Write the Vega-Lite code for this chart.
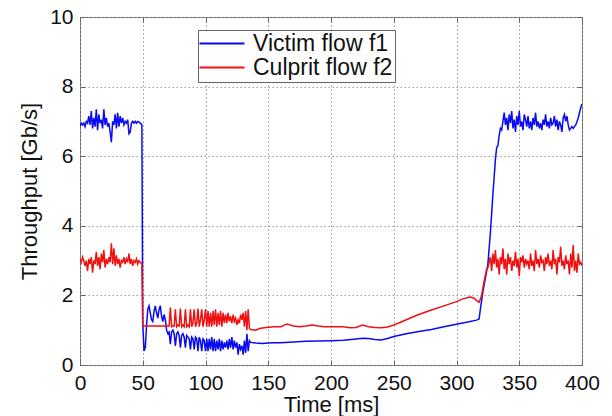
{
  "$schema": "https://vega.github.io/schema/vega-lite/v6.json",
  "autosize": "none",
  "width": 502,
  "height": 348,
  "padding": {"left": 80, "top": 17, "right": 30, "bottom": 51},
  "background": "white",
  "datasets": {
    "victim": [
      {"t": 0, "v": 6.85}, {"t": 1, "v": 6.95}, {"t": 2, "v": 6.9}, {"t": 3, "v": 6.95}, {"t": 4, "v": 6.85},
      {"t": 5, "v": 7.0}, {"t": 6, "v": 6.95}, {"t": 7, "v": 7.15}, {"t": 8, "v": 6.9}, {"t": 9, "v": 7.3},
      {"t": 10, "v": 6.8}, {"t": 11, "v": 7.1}, {"t": 12, "v": 6.85}, {"t": 13, "v": 7.35}, {"t": 14, "v": 6.75},
      {"t": 15, "v": 7.2}, {"t": 16, "v": 6.95}, {"t": 17, "v": 7.05}, {"t": 18, "v": 6.8}, {"t": 19, "v": 7.35},
      {"t": 20, "v": 6.9}, {"t": 21, "v": 7.1}, {"t": 22, "v": 6.85}, {"t": 23, "v": 6.95}, {"t": 24, "v": 6.7},
      {"t": 25, "v": 6.4}, {"t": 26, "v": 7.0}, {"t": 27, "v": 6.9}, {"t": 28, "v": 7.2}, {"t": 29, "v": 6.8},
      {"t": 30, "v": 7.25}, {"t": 31, "v": 6.85}, {"t": 32, "v": 7.15}, {"t": 33, "v": 6.95}, {"t": 34, "v": 7.1},
      {"t": 35, "v": 6.9}, {"t": 36, "v": 7.0}, {"t": 37, "v": 6.95}, {"t": 38, "v": 7.05}, {"t": 39, "v": 6.65},
      {"t": 40, "v": 6.7}, {"t": 41, "v": 6.95}, {"t": 42, "v": 7.0}, {"t": 43, "v": 6.95}, {"t": 44, "v": 7.0},
      {"t": 45, "v": 6.95}, {"t": 46, "v": 7.0}, {"t": 47, "v": 6.98}, {"t": 48, "v": 6.95}, {"t": 49.3, "v": 6.9},
      {"t": 50, "v": 1.2}, {"t": 51, "v": 0.4}, {"t": 52, "v": 0.5}, {"t": 53, "v": 1.1}, {"t": 54, "v": 1.6},
      {"t": 55, "v": 1.7}, {"t": 56, "v": 1.5}, {"t": 57, "v": 1.3}, {"t": 58, "v": 1.25}, {"t": 59, "v": 1.55},
      {"t": 60, "v": 1.7}, {"t": 61, "v": 1.5}, {"t": 62, "v": 1.35}, {"t": 63, "v": 1.6}, {"t": 64, "v": 1.7},
      {"t": 65, "v": 1.4}, {"t": 66, "v": 1.25}, {"t": 67, "v": 1.45}, {"t": 68, "v": 1.3}, {"t": 69, "v": 1.0},
      {"t": 70, "v": 0.9}, {"t": 71, "v": 0.95}, {"t": 72, "v": 0.6}, {"t": 73, "v": 0.95}, {"t": 74, "v": 1.0},
      {"t": 75, "v": 0.9}, {"t": 76, "v": 0.55}, {"t": 77, "v": 0.9}, {"t": 78, "v": 0.95}, {"t": 79, "v": 0.85},
      {"t": 80, "v": 0.5}, {"t": 81, "v": 0.85}, {"t": 82, "v": 0.9}, {"t": 83, "v": 0.8}, {"t": 84, "v": 0.5},
      {"t": 85, "v": 0.85}, {"t": 86, "v": 0.8}, {"t": 87, "v": 0.75}, {"t": 88, "v": 0.45}, {"t": 89, "v": 0.8},
      {"t": 90, "v": 0.75}, {"t": 91, "v": 0.45}, {"t": 92, "v": 0.8}, {"t": 93, "v": 0.75}, {"t": 94, "v": 0.4},
      {"t": 95, "v": 0.8}, {"t": 96, "v": 0.7}, {"t": 97, "v": 0.4}, {"t": 98, "v": 0.75}, {"t": 99, "v": 0.7},
      {"t": 100, "v": 0.4}, {"t": 101, "v": 0.75}, {"t": 102, "v": 0.4}, {"t": 103, "v": 0.75}, {"t": 104, "v": 0.45},
      {"t": 105, "v": 0.8}, {"t": 106, "v": 0.4}, {"t": 107, "v": 0.75}, {"t": 108, "v": 0.4}, {"t": 109, "v": 0.7},
      {"t": 110, "v": 0.45}, {"t": 111, "v": 0.75}, {"t": 112, "v": 0.4}, {"t": 113, "v": 0.7}, {"t": 114, "v": 0.45},
      {"t": 115, "v": 0.65}, {"t": 116, "v": 0.5}, {"t": 117, "v": 0.7}, {"t": 118, "v": 0.45}, {"t": 119, "v": 0.75},
      {"t": 120, "v": 0.5}, {"t": 121, "v": 0.8}, {"t": 122, "v": 0.45}, {"t": 123, "v": 0.7}, {"t": 124, "v": 0.5},
      {"t": 125, "v": 0.65}, {"t": 126, "v": 0.3}, {"t": 127, "v": 0.6}, {"t": 128, "v": 0.45}, {"t": 129, "v": 0.55},
      {"t": 130, "v": 0.3}, {"t": 131, "v": 0.7}, {"t": 132, "v": 0.35}, {"t": 133, "v": 0.9}, {"t": 134, "v": 0.4},
      {"t": 135, "v": 0.7}, {"t": 136, "v": 0.65}, {"t": 140, "v": 0.63}, {"t": 145, "v": 0.62}, {"t": 150, "v": 0.63},
      {"t": 155, "v": 0.64}, {"t": 160, "v": 0.64}, {"t": 170, "v": 0.66}, {"t": 180, "v": 0.68}, {"t": 190, "v": 0.69},
      {"t": 200, "v": 0.7}, {"t": 210, "v": 0.71}, {"t": 220, "v": 0.75}, {"t": 225, "v": 0.77}, {"t": 230, "v": 0.76},
      {"t": 235, "v": 0.73}, {"t": 240, "v": 0.72}, {"t": 245, "v": 0.76}, {"t": 250, "v": 0.82}, {"t": 260, "v": 0.9},
      {"t": 270, "v": 0.96}, {"t": 280, "v": 1.02}, {"t": 290, "v": 1.1}, {"t": 300, "v": 1.17}, {"t": 310, "v": 1.24},
      {"t": 316, "v": 1.29}, {"t": 318, "v": 1.32}, {"t": 319, "v": 1.6}, {"t": 321, "v": 2.1}, {"t": 323, "v": 2.5},
      {"t": 325, "v": 2.9}, {"t": 327, "v": 3.8}, {"t": 329, "v": 4.9}, {"t": 331, "v": 5.9}, {"t": 332, "v": 6.25},
      {"t": 333, "v": 6.3}, {"t": 334, "v": 6.6}, {"t": 335, "v": 6.8}, {"t": 336, "v": 6.75}, {"t": 337, "v": 7.0},
      {"t": 338, "v": 7.25}, {"t": 339, "v": 6.9}, {"t": 340, "v": 7.1}, {"t": 341, "v": 6.75}, {"t": 342, "v": 7.2},
      {"t": 343, "v": 6.95}, {"t": 344, "v": 7.3}, {"t": 345, "v": 6.8}, {"t": 346, "v": 7.05}, {"t": 347, "v": 6.7},
      {"t": 348, "v": 7.15}, {"t": 349, "v": 6.9}, {"t": 350, "v": 7.3}, {"t": 351, "v": 6.85}, {"t": 352, "v": 7.0},
      {"t": 353, "v": 6.75}, {"t": 354, "v": 7.2}, {"t": 355, "v": 7.05}, {"t": 356, "v": 6.85}, {"t": 357, "v": 7.15},
      {"t": 358, "v": 6.8}, {"t": 359, "v": 7.0}, {"t": 360, "v": 6.75}, {"t": 361, "v": 7.1}, {"t": 362, "v": 6.9},
      {"t": 363, "v": 7.25}, {"t": 364, "v": 6.85}, {"t": 365, "v": 7.0}, {"t": 366, "v": 6.8}, {"t": 367, "v": 6.95},
      {"t": 368, "v": 6.75}, {"t": 369, "v": 7.05}, {"t": 370, "v": 6.9}, {"t": 371, "v": 7.2}, {"t": 372, "v": 6.85},
      {"t": 373, "v": 7.0}, {"t": 374, "v": 6.8}, {"t": 375, "v": 7.1}, {"t": 376, "v": 6.9}, {"t": 377, "v": 6.95},
      {"t": 378, "v": 7.15}, {"t": 379, "v": 6.85}, {"t": 380, "v": 7.05}, {"t": 381, "v": 6.75}, {"t": 382, "v": 7.0},
      {"t": 383, "v": 6.9}, {"t": 384, "v": 6.7}, {"t": 385, "v": 7.1}, {"t": 386, "v": 7.2}, {"t": 387, "v": 7.0},
      {"t": 388, "v": 7.15}, {"t": 389, "v": 6.9}, {"t": 390, "v": 6.75}, {"t": 391, "v": 6.8}, {"t": 392, "v": 6.85},
      {"t": 393, "v": 6.8}, {"t": 394, "v": 6.85}, {"t": 395, "v": 6.9}, {"t": 396, "v": 7.0}, {"t": 397, "v": 7.1},
      {"t": 398, "v": 7.25}, {"t": 399, "v": 7.4}, {"t": 400, "v": 7.5}
    ],
    "culprit": [
      {"t": 0, "v": 3.05}, {"t": 1, "v": 2.95}, {"t": 2, "v": 3.1}, {"t": 3, "v": 3.0}, {"t": 4, "v": 2.85},
      {"t": 5, "v": 3.0}, {"t": 6, "v": 2.7}, {"t": 7, "v": 3.05}, {"t": 8, "v": 2.9}, {"t": 9, "v": 3.1},
      {"t": 10, "v": 2.65}, {"t": 11, "v": 3.0}, {"t": 12, "v": 2.9}, {"t": 13, "v": 3.25}, {"t": 14, "v": 2.85},
      {"t": 15, "v": 3.1}, {"t": 16, "v": 2.75}, {"t": 17, "v": 3.2}, {"t": 18, "v": 2.95}, {"t": 19, "v": 3.3},
      {"t": 20, "v": 2.8}, {"t": 21, "v": 3.05}, {"t": 22, "v": 2.9}, {"t": 23, "v": 3.1}, {"t": 24, "v": 2.95},
      {"t": 25, "v": 3.5}, {"t": 26, "v": 2.9}, {"t": 27, "v": 3.35}, {"t": 28, "v": 2.85}, {"t": 29, "v": 3.15},
      {"t": 30, "v": 2.9}, {"t": 31, "v": 3.05}, {"t": 32, "v": 2.8}, {"t": 33, "v": 3.0}, {"t": 34, "v": 2.95},
      {"t": 35, "v": 3.1}, {"t": 36, "v": 2.9}, {"t": 37, "v": 3.05}, {"t": 38, "v": 2.95}, {"t": 39, "v": 3.2},
      {"t": 40, "v": 2.9}, {"t": 41, "v": 3.05}, {"t": 42, "v": 2.85}, {"t": 43, "v": 3.0}, {"t": 44, "v": 2.95},
      {"t": 45, "v": 3.05}, {"t": 46, "v": 2.9}, {"t": 47, "v": 3.0}, {"t": 48, "v": 2.95}, {"t": 49.3, "v": 2.9},
      {"t": 50, "v": 1.12}, {"t": 60, "v": 1.12}, {"t": 70, "v": 1.12}, {"t": 71, "v": 1.12}, {"t": 72, "v": 1.65},
      {"t": 73, "v": 1.1}, {"t": 74, "v": 1.12}, {"t": 75, "v": 1.12}, {"t": 76, "v": 1.6}, {"t": 77, "v": 1.1},
      {"t": 78, "v": 1.15}, {"t": 79, "v": 1.12}, {"t": 80, "v": 1.62}, {"t": 81, "v": 1.1}, {"t": 82, "v": 1.15},
      {"t": 83, "v": 1.1}, {"t": 84, "v": 1.6}, {"t": 85, "v": 1.1}, {"t": 86, "v": 1.15}, {"t": 87, "v": 1.1},
      {"t": 88, "v": 1.6}, {"t": 89, "v": 1.1}, {"t": 90, "v": 1.2}, {"t": 91, "v": 1.6}, {"t": 92, "v": 1.1},
      {"t": 93, "v": 1.2}, {"t": 94, "v": 1.62}, {"t": 95, "v": 1.1}, {"t": 96, "v": 1.3}, {"t": 97, "v": 1.6},
      {"t": 98, "v": 1.1}, {"t": 99, "v": 1.3}, {"t": 100, "v": 1.6}, {"t": 101, "v": 1.1}, {"t": 102, "v": 1.55},
      {"t": 103, "v": 1.1}, {"t": 104, "v": 1.5}, {"t": 105, "v": 1.1}, {"t": 106, "v": 1.55}, {"t": 107, "v": 1.15},
      {"t": 108, "v": 1.6}, {"t": 109, "v": 1.1}, {"t": 110, "v": 1.5}, {"t": 111, "v": 1.15}, {"t": 112, "v": 1.55},
      {"t": 113, "v": 1.1}, {"t": 114, "v": 1.5}, {"t": 115, "v": 1.2}, {"t": 116, "v": 1.45}, {"t": 117, "v": 1.2},
      {"t": 118, "v": 1.5}, {"t": 119, "v": 1.25}, {"t": 120, "v": 1.4}, {"t": 121, "v": 1.2}, {"t": 122, "v": 1.45},
      {"t": 123, "v": 1.25}, {"t": 124, "v": 1.35}, {"t": 125, "v": 1.15}, {"t": 126, "v": 1.3}, {"t": 127, "v": 1.2},
      {"t": 128, "v": 1.45}, {"t": 129, "v": 1.3}, {"t": 130, "v": 1.5}, {"t": 131, "v": 1.1}, {"t": 132, "v": 1.55},
      {"t": 133, "v": 1.0}, {"t": 134, "v": 1.6}, {"t": 135, "v": 1.05}, {"t": 136, "v": 1.02}, {"t": 140, "v": 1.0},
      {"t": 143, "v": 1.05}, {"t": 148, "v": 1.08}, {"t": 155, "v": 1.1}, {"t": 160, "v": 1.1}, {"t": 165, "v": 1.18},
      {"t": 170, "v": 1.12}, {"t": 175, "v": 1.1}, {"t": 180, "v": 1.12}, {"t": 185, "v": 1.15}, {"t": 190, "v": 1.12},
      {"t": 195, "v": 1.1}, {"t": 200, "v": 1.1}, {"t": 205, "v": 1.1}, {"t": 210, "v": 1.1}, {"t": 215, "v": 1.07},
      {"t": 220, "v": 1.08}, {"t": 225, "v": 1.15}, {"t": 230, "v": 1.1}, {"t": 235, "v": 1.08}, {"t": 240, "v": 1.07},
      {"t": 245, "v": 1.09}, {"t": 250, "v": 1.15}, {"t": 255, "v": 1.22}, {"t": 260, "v": 1.3}, {"t": 265, "v": 1.38},
      {"t": 270, "v": 1.45}, {"t": 280, "v": 1.58}, {"t": 290, "v": 1.7}, {"t": 300, "v": 1.82}, {"t": 305, "v": 1.9},
      {"t": 311, "v": 1.95}, {"t": 314, "v": 1.92}, {"t": 316, "v": 1.85}, {"t": 318, "v": 1.8}, {"t": 320, "v": 2.0},
      {"t": 322, "v": 2.4}, {"t": 324, "v": 2.75}, {"t": 325, "v": 2.8}, {"t": 326, "v": 2.95}, {"t": 327, "v": 3.1},
      {"t": 328, "v": 2.7}, {"t": 329, "v": 3.2}, {"t": 330, "v": 2.9}, {"t": 331, "v": 3.3}, {"t": 332, "v": 2.8},
      {"t": 333, "v": 3.05}, {"t": 334, "v": 2.6}, {"t": 335, "v": 3.1}, {"t": 336, "v": 2.9}, {"t": 337, "v": 3.35},
      {"t": 338, "v": 2.75}, {"t": 339, "v": 3.05}, {"t": 340, "v": 2.6}, {"t": 341, "v": 3.2}, {"t": 342, "v": 2.9},
      {"t": 343, "v": 3.1}, {"t": 344, "v": 2.7}, {"t": 345, "v": 3.0}, {"t": 346, "v": 2.85}, {"t": 347, "v": 3.25},
      {"t": 348, "v": 2.8}, {"t": 349, "v": 3.05}, {"t": 350, "v": 2.55}, {"t": 351, "v": 3.1}, {"t": 352, "v": 2.95},
      {"t": 353, "v": 3.15}, {"t": 354, "v": 2.8}, {"t": 355, "v": 3.05}, {"t": 356, "v": 2.9}, {"t": 357, "v": 3.0},
      {"t": 358, "v": 2.75}, {"t": 359, "v": 3.2}, {"t": 360, "v": 2.85}, {"t": 361, "v": 3.0}, {"t": 362, "v": 2.7},
      {"t": 363, "v": 3.3}, {"t": 364, "v": 2.9}, {"t": 365, "v": 3.05}, {"t": 366, "v": 2.8}, {"t": 367, "v": 3.15},
      {"t": 368, "v": 2.95}, {"t": 369, "v": 3.0}, {"t": 370, "v": 2.7}, {"t": 371, "v": 3.1}, {"t": 372, "v": 2.9},
      {"t": 373, "v": 3.2}, {"t": 374, "v": 2.85}, {"t": 375, "v": 3.0}, {"t": 376, "v": 2.75}, {"t": 377, "v": 3.3},
      {"t": 378, "v": 2.9}, {"t": 379, "v": 3.05}, {"t": 380, "v": 2.6}, {"t": 381, "v": 3.1}, {"t": 382, "v": 2.95},
      {"t": 383, "v": 3.4}, {"t": 384, "v": 2.85}, {"t": 385, "v": 3.0}, {"t": 386, "v": 2.75}, {"t": 387, "v": 3.15},
      {"t": 388, "v": 2.9}, {"t": 389, "v": 3.0}, {"t": 390, "v": 2.6}, {"t": 391, "v": 3.2}, {"t": 392, "v": 2.8},
      {"t": 393, "v": 3.45}, {"t": 394, "v": 2.7}, {"t": 395, "v": 3.0}, {"t": 396, "v": 2.65}, {"t": 397, "v": 3.2},
      {"t": 398, "v": 2.9}, {"t": 399, "v": 2.95}, {"t": 400, "v": 2.85}
    ]
  },
  "resolve": {"axis": {"x": "independent", "y": "independent"}},
  "layer": [
    {
      "data": {"name": "victim"},
      "mark": {"type": "line", "strokeWidth": 1.5, "clip": true},
      "encoding": {
        "x": {
          "field": "t", "type": "quantitative",
          "scale": {"domain": [0, 400], "nice": false, "zero": false},
          "axis": {
            "title": "Time [ms]", "values": [0, 50, 100, 150, 200, 250, 300, 350, 400],
            "grid": true, "domain": false, "tickSize": -5, "labelPadding": 12,
            "titlePadding": 1
          }
        },
        "y": {
          "field": "v", "type": "quantitative",
          "scale": {"domain": [0, 10], "nice": false},
          "axis": {
            "title": "Throughput [Gb/s]", "values": [0, 2, 4, 6, 8, 10],
            "grid": true, "domain": false, "tickSize": -5, "labelPadding": 12,
            "titlePadding": 8
          }
        },
        "color": {
          "datum": "Victim flow f1",
          "type": "nominal",
          "scale": {"domain": ["Victim flow f1", "Culprit flow f2"], "range": ["#0a0af0", "#f01010"]},
          "legend": {"orient": "none", "legendX": 118, "legendY": 13, "title": null}
        }
      }
    },
    {
      "data": {"name": "culprit"},
      "mark": {"type": "line", "strokeWidth": 1.5, "clip": true},
      "encoding": {
        "x": {
          "field": "t", "type": "quantitative",
          "axis": {"orient": "top", "title": null, "labels": false, "grid": false, "domain": false,
                   "tickSize": -5, "values": [0, 50, 100, 150, 200, 250, 300, 350, 400]}
        },
        "y": {
          "field": "v", "type": "quantitative",
          "axis": {"orient": "right", "title": null, "labels": false, "grid": false, "domain": false,
                   "tickSize": -5, "values": [0, 2, 4, 6, 8, 10]}
        },
        "color": {
          "datum": "Culprit flow f2",
          "type": "nominal",
          "legend": {"orient": "none", "legendX": 118, "legendY": 13, "title": null}
        }
      }
    }
  ],
  "config": {
    "font": "Liberation Sans",
    "view": {"stroke": "#666", "strokeWidth": 1},
    "axis": {
      "labelFontSize": 21, "labelColor": "#111", "labelFlush": false, "labelOverlap": false,
      "titleFontSize": 22, "titleFontWeight": "normal", "titleColor": "#111",
      "tickColor": "#666", "tickWidth": 1,
      "gridColor": "#999", "gridDash": [1.5, 2.5], "gridWidth": 1, "gridOpacity": 1
    },
    "legend": {
      "symbolType": "M-2.4,0H6.6", "symbolSize": 100, "symbolStrokeWidth": 2,
      "labelFontSize": 23, "labelColor": "#111", "labelOffset": 30, "labelLimit": 400,
      "rowPadding": -7, "padding": 2, "strokeColor": "#666", "fillColor": "white"
    }
  }
}
